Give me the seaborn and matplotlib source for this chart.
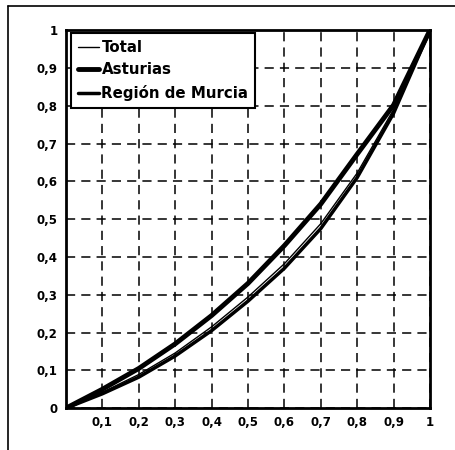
import matplotlib
matplotlib.use('agg')
import seaborn as sns
import matplotlib.pyplot as plt
import pandas as pd

sns.set_style('white')
plt.rcParams['font.family'] = ['DejaVu Sans']
plt.rcParams['text.color'] = 'black'
plt.rcParams['xtick.color'] = 'black'
plt.rcParams['ytick.color'] = 'black'

# population share (x) and cumulative income share (y)
pob = [0, 0.1, 0.2, 0.3, 0.4, 0.5, 0.6, 0.7, 0.8, 0.9, 1.0]
total = [0, 0.042, 0.089, 0.146, 0.215, 0.294, 0.382, 0.488, 0.622, 0.79, 1.0]
asturias = [0, 0.05, 0.105, 0.17, 0.245, 0.33, 0.43, 0.54, 0.672, 0.802, 1.0]
murcia = [0, 0.038, 0.082, 0.138, 0.205, 0.283, 0.37, 0.475, 0.61, 0.78, 1.0]

ticks = [0, 0.1, 0.2, 0.3, 0.4, 0.5, 0.6, 0.7, 0.8, 0.9, 1.0]
xlabels = ['', '0,1', '0,2', '0,3', '0,4', '0,5', '0,6', '0,7', '0,8', '0,9', '1']
ylabels = ['0', '0,1', '0,2', '0,3', '0,4', '0,5', '0,6', '0,7', '0,8', '0,9', '1']

df = pd.DataFrame({'x': pob, 'Total': total, 'Asturias': asturias,
                   'Región de Murcia': murcia})

fig = plt.figure(figsize=(4.55, 4.5), dpi=100)
ax = fig.add_axes([0.145, 0.093, 0.8, 0.84])

sns.lineplot(data=df, x='x', y='Total', color='black', lw=1.0, label='Total', ax=ax)
sns.lineplot(data=df, x='x', y='Asturias', color='black', lw=3.5, label='Asturias', ax=ax)
sns.lineplot(data=df, x='x', y='Región de Murcia', color='black', lw=2.5,
             label='Región de Murcia', ax=ax)

ax.set_xlim(0, 1)
ax.set_ylim(0, 1)
ax.set_xticks(ticks)
ax.set_yticks(ticks)
ax.set_xticklabels(xlabels, fontsize=8.5, fontweight='bold', color='black')
ax.set_yticklabels(ylabels, fontsize=8.5, fontweight='bold', color='black')
ax.tick_params(length=0, pad=6)
ax.set_xlabel('')
ax.set_ylabel('')
ax.grid(True, color='black', linestyle=(0, (6, 4)), linewidth=1.1)
for s in ax.spines.values():
    s.set_color('black')
    s.set_linewidth(2)

leg = ax.legend(loc='upper left', bbox_to_anchor=(0.015, 0.992), frameon=True,
                fancybox=False, handlelength=1.4, handletextpad=0.15,
                borderpad=0.45, labelspacing=0.5, borderaxespad=0,
                prop={'weight': 'bold', 'size': 10.8})
leg.get_frame().set_edgecolor('black')
leg.get_frame().set_linewidth(1.5)
leg.get_frame().set_alpha(1)
for t in leg.get_texts():
    t.set_color('black')

# scanned frame (left and top edges only)
fig.add_artist(plt.Line2D([0.018, 0.018], [0, 0.987], color='black', lw=1.2,
                          transform=fig.transFigure))
fig.add_artist(plt.Line2D([0.018, 1], [0.987, 0.987], color='black', lw=1.2,
                          transform=fig.transFigure))

plt.savefig('out.png', dpi=100)
